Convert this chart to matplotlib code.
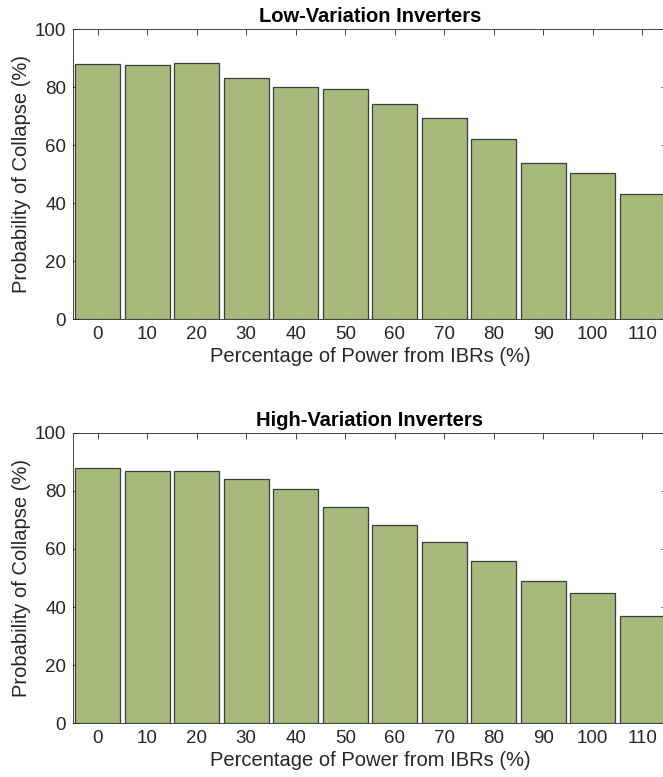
import matplotlib
matplotlib.use("Agg")
import matplotlib.pyplot as plt
import numpy as np

plt.rcParams['font.family'] = ['Liberation Sans', 'DejaVu Sans']

ibr_pct = [0, 10, 20, 30, 40, 50, 60, 70, 80, 90, 100, 110]
low_var = [87.9, 87.7, 88.5, 83.1, 80.0, 79.3, 74.4, 69.3, 62.1, 53.9, 50.6, 43.1]
high_var = [87.9, 86.9, 86.9, 84.0, 80.6, 74.5, 68.4, 62.4, 55.8, 49.0, 44.7, 36.8]
titles = ["Low-Variation Inverters", "High-Variation Inverters"]
xlabel = "Percentage of Power from IBRs (%)"
ylabel = "Probability of Collapse (%)"

W, H = 663, 777
fig = plt.figure(figsize=(W / 100, H / 100), dpi=100)

bar_color = "#a7ba7c"
edge_color = "#3c3c3c"
axis_color = "#262626"

# axes rectangles in pixel coordinates (left, top, right, bottom)
rects = [(73, 29.3, 667, 319.3), (73, 432.7, 667, 723.3)]
series = [low_var, high_var]

for (l, t, r, b), vals, title in zip(rects, series, titles):
    ax = fig.add_axes([l / W, 1 - b / H, (r - l) / W, (b - t) / H])
    ax.bar(ibr_pct, vals, width=9.0, color=bar_color, edgecolor=edge_color,
           linewidth=0.9, zorder=2)
    ax.set_xlim(-5, 115)
    ax.set_ylim(0, 100)
    ax.set_xticks(ibr_pct)
    ax.set_yticks(np.arange(0, 101, 20))
    ax.tick_params(direction="in", length=4, width=0.6, colors=axis_color,
                   labelsize=13.5, top=True, right=True, pad=5)
    for s in ax.spines.values():
        s.set_color(axis_color)
        s.set_linewidth(0.6)
    ax.set_xlabel(xlabel, fontsize=14.5, color=axis_color, labelpad=3)
    ax.set_ylabel(ylabel, fontsize=14.5, color=axis_color, labelpad=3)
    ax.set_title(title, fontsize=14.5, fontweight="bold", color="black", pad=5)

fig.savefig("out.png", dpi=100)
